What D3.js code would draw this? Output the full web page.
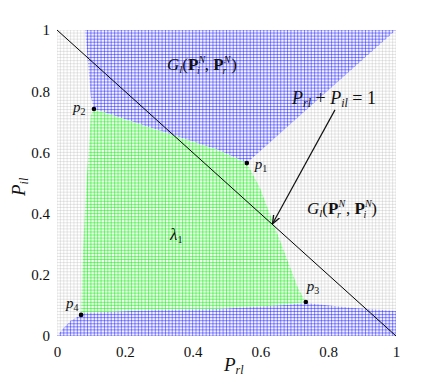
<!DOCTYPE html>
<meta charset="utf-8">
<script src="https://d3js.org/d3.v7.min.js"></script>
<style>
  body { margin: 0; background: #fff; }
  text { font-family: 'Liberation Serif', 'DejaVu Serif', serif; fill: #111; }
  .axis .domain { display: none; }
</style>
<body>
<svg width="437" height="378"></svg>
</body>
<script>

// region outlines (P_rl, P_il)
var blueTop = [[0.083,1],[1,1],[0.56,0.565],[0.475,0.608],[0.109,0.742],[0.1,0.78],[0.083,1]];
var greenRegion = [[0.109,0.742],[0.475,0.608],[0.56,0.565],[0.599,0.484],[0.711,0.157],[0.734,0.111],
                   [0.673,0.101],[0.475,0.088],[0.29,0.085],[0.08,0.075],[0.071,0.069],
                   [0.077,0.288],[0.086,0.484],[0.1,0.722]];
var blueBottom = [[0,0],[1,0],[1,0.082],[0.867,0.092],[0.734,0.108],[0.673,0.101],[0.475,0.088],
                  [0.29,0.085],[0.08,0.075],[0.071,0.069],[0.04,0.05],[0.02,0.027]];

var pointNames = ["p1","p2","p3","p4"];
var pointX = [0.56, 0.109, 0.734, 0.071];
var pointY = [0.565, 0.742, 0.111, 0.069];
var labelOffset = [[8,6],[-21,3],[1,-11],[-15,-7]];   // px offsets of the point labels

var ticks = [0, 0.2, 0.4, 0.6, 0.8, 1];
var sumLine = [[0,1],[1,0]];
var arrowFrom = [0.82, 0.739], arrowTo = [0.637, 0.369];

var svg = d3.select("svg");
var x = d3.scaleLinear().domain([0,1]).range([57,396]);
var y = d3.scaleLinear().domain([0,1]).range([336,30]);
var line = d3.line().x(function(d){ return x(d[0]); }).y(function(d){ return y(d[1]); });

var defs = svg.append("defs");
defs.append("clipPath").attr("id","clipPlot").append("rect")
    .attr("x", x(0)).attr("y", y(1)).attr("width", x(1)-x(0)).attr("height", y(0)-y(1));
[["clipBlueTop", blueTop],["clipGreen", greenRegion],["clipBlueBot", blueBottom]].forEach(function(c){
  defs.append("clipPath").attr("id", c[0]).append("path").attr("d", line(c[1]) + "Z");
});
defs.append("marker").attr("id","arrow").attr("viewBox","0 0 10 10")
    .attr("refX",9).attr("refY",5).attr("markerWidth",7).attr("markerHeight",7)
    .attr("orient","auto")
  .append("path").attr("d","M0,1L10,5L0,9").attr("fill","none").attr("stroke","#111").attr("stroke-width",1.6);

var gridVals = x.ticks(100);

function drawGrid(g, colour, opacity, width) {
  g.selectAll("line.v").data(gridVals).enter().append("line")
    .attr("x1", function(d){ return x(d); }).attr("x2", function(d){ return x(d); })
    .attr("y1", y(0)).attr("y2", y(1))
    .attr("stroke", colour).attr("stroke-opacity", opacity).attr("stroke-width", width);
  g.selectAll("line.h").data(gridVals).enter().append("line")
    .attr("y1", function(d){ return y(d); }).attr("y2", function(d){ return y(d); })
    .attr("x1", x(0)).attr("x2", x(1))
    .attr("stroke", colour).attr("stroke-opacity", opacity).attr("stroke-width", width);
}

// grey mesh over the whole square
drawGrid(svg.append("g").attr("clip-path","url(#clipPlot)"), "#a0a0a0", 0.32, 0.8);

// coloured regions
[["clipBlueTop", blueTop, "#1a1aff"],["clipGreen", greenRegion, "#00ee00"],["clipBlueBot", blueBottom, "#1a1aff"]]
  .forEach(function(r){
    svg.append("path").attr("d", line(r[1]) + "Z").attr("fill","#fff");
    var g = svg.append("g").attr("clip-path","url(#" + r[0] + ")");
    g.append("path").attr("d", line(r[1]) + "Z").attr("fill", r[2]).attr("fill-opacity", 0.06);
    drawGrid(g, r[2], 0.55, 0.9);
  });

// P_rl + P_il = 1
svg.append("path").attr("d", line(sumLine)).attr("stroke","#000").attr("stroke-width",1).attr("fill","none");

// axes
var fmt = function(d){ return d === 0 || d === 1 ? d : d3.format(".1f")(d); };
var xAxis = svg.append("g").attr("class","axis").attr("transform","translate(0," + (y(0)+4) + ")")
  .call(d3.axisBottom(x).tickValues(ticks).tickSize(0).tickFormat(fmt));
xAxis.selectAll("text").attr("dy","0.9em");
var yAxis = svg.append("g").attr("class","axis").attr("transform","translate(" + (x(0)-4) + ",0)")
  .call(d3.axisLeft(y).tickValues(ticks).tickSize(0).tickFormat(fmt));
svg.selectAll(".axis").attr("font-family","'Liberation Serif', serif").attr("font-size", 15);
svg.selectAll(".axis text").attr("fill","#111");

// points
pointNames.forEach(function(n, i){
  svg.append("circle").attr("cx", x(pointX[i])).attr("cy", y(pointY[i])).attr("r", 2.3).attr("fill","#000");
  var t = svg.append("text").attr("x", x(pointX[i]) + labelOffset[i][0]).attr("y", y(pointY[i]) + labelOffset[i][1])
    .attr("font-size", 15).attr("font-style","italic");
  t.append("tspan").text("p");
  t.append("tspan").attr("font-style","normal").attr("font-size",10).attr("dy",3).text(n.slice(1));
});

// annotations
function gLabel(px, py, a, b) {
  var t = svg.append("text").attr("x", px).attr("y", py).attr("font-size", 17);
  t.append("tspan").attr("font-style","italic").text("G");
  t.append("tspan").attr("font-style","italic").attr("font-size",11).attr("dy",3).text("l");
  t.append("tspan").attr("dy",-3).text("(");
  t.append("tspan").attr("font-weight","bold").text("P");
  t.append("tspan").attr("font-style","italic").attr("font-size",10).attr("dy",-7).text("N");
  t.append("tspan").attr("font-style","italic").attr("font-size",10).attr("dx",-8).attr("dy",11).text(a);
  t.append("tspan").attr("dx",5).attr("dy",-4).text(", ");
  t.append("tspan").attr("font-weight","bold").text("P");
  t.append("tspan").attr("font-style","italic").attr("font-size",10).attr("dy",-7).text("N");
  t.append("tspan").attr("font-style","italic").attr("font-size",10).attr("dx",-8).attr("dy",11).text(b);
  t.append("tspan").attr("dx",5).attr("dy",-4).text(")");
}
gLabel(167, 70, "i", "r");
gLabel(307, 214, "r", "i");

var eq = svg.append("text").attr("x", 292).attr("y", 104).attr("font-size", 18);
eq.append("tspan").attr("font-style","italic").text("P");
eq.append("tspan").attr("font-style","italic").attr("font-size",12).attr("dy",3).text("rl");
eq.append("tspan").attr("dy",-3).text(" + ");
eq.append("tspan").attr("font-style","italic").text("P");
eq.append("tspan").attr("font-style","italic").attr("font-size",12).attr("dy",3).text("il");
eq.append("tspan").attr("dy",-3).text(" = 1");

svg.append("line").attr("x1", x(arrowFrom[0])).attr("y1", y(arrowFrom[1]))
  .attr("x2", x(arrowTo[0])).attr("y2", y(arrowTo[1]))
  .attr("stroke","#111").attr("stroke-width",1.2).attr("marker-end","url(#arrow)");

var lam = svg.append("text").attr("x", 170).attr("y", 240).attr("font-size", 17);
lam.append("tspan").attr("font-style","italic").text("λ");
lam.append("tspan").attr("font-size",10).attr("dy",3).text("1");

// axis titles
var xt = svg.append("text").attr("x", 224).attr("y", 371).attr("font-size", 19);
xt.append("tspan").attr("font-style","italic").text("P");
xt.append("tspan").attr("font-style","italic").attr("font-size",12).attr("dy",3).text("rl");

var yt = svg.append("text").attr("transform","translate(25,196) rotate(-90)").attr("font-size", 19);
yt.append("tspan").attr("font-style","italic").text("P");
yt.append("tspan").attr("font-style","italic").attr("font-size",12).attr("dy",3).text("il");

</script>
